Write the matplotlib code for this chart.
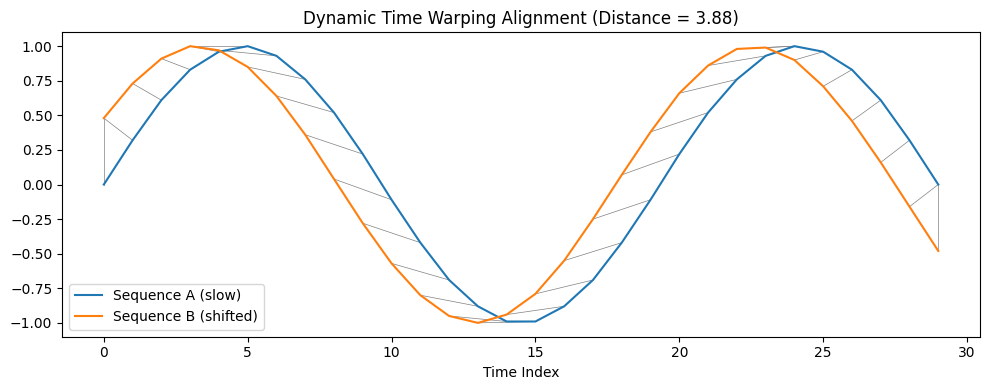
import matplotlib.pyplot as plt
import numpy as np

# Values (30 samples each)
idx = list(range(30))
seq_a = [0.00, 0.32, 0.61, 0.83, 0.96, 1.00, 0.93, 0.76, 0.52, 0.22,
         -0.11, -0.42, -0.69, -0.88, -0.99, -0.99, -0.88, -0.69, -0.42, -0.11,
         0.22, 0.52, 0.76, 0.93, 1.00, 0.96, 0.83, 0.61, 0.32, 0.00]
seq_b = [0.48, 0.73, 0.91, 1.00, 0.97, 0.85, 0.64, 0.36, 0.04, -0.28,
         -0.57, -0.80, -0.95, -1.00, -0.94, -0.79, -0.55, -0.25, 0.07, 0.38,
         0.66, 0.86, 0.98, 0.99, 0.90, 0.71, 0.46, 0.16, -0.16, -0.48]
dtw_distance = "3.88"


# Classic DTW with absolute difference cost, returns warping path
def dtw_path(a, b):
    n, m = len(a), len(b)
    cost = np.full((n + 1, m + 1), np.inf)
    cost[0, 0] = 0
    for i in range(1, n + 1):
        for j in range(1, m + 1):
            d = abs(a[i - 1] - b[j - 1])
            cost[i, j] = d + min(cost[i - 1, j], cost[i, j - 1], cost[i - 1, j - 1])
    i, j = n, m
    path = [(i - 1, j - 1)]
    while i > 1 or j > 1:
        steps = [(cost[i - 1, j - 1], i - 1, j - 1),
                 (cost[i - 1, j], i - 1, j),
                 (cost[i, j - 1], i, j - 1)]
        _, i, j = min(steps, key=lambda s: s[0])
        path.append((i - 1, j - 1))
    return path[::-1]


path = dtw_path(seq_a, seq_b)

plt.figure(figsize=(10, 4), dpi=100)
for i, j in path:
    plt.plot([idx[i], idx[j]], [seq_a[i], seq_b[j]], color="gray", linewidth=0.5)
plt.plot(idx, seq_a, label="Sequence A (slow)")
plt.plot(idx, seq_b, label="Sequence B (shifted)")

plt.title(f"Dynamic Time Warping Alignment (Distance = {dtw_distance})")
plt.xlabel("Time Index")
plt.legend(loc="lower left")
plt.tight_layout()
plt.savefig("out.png", bbox_inches="tight")
